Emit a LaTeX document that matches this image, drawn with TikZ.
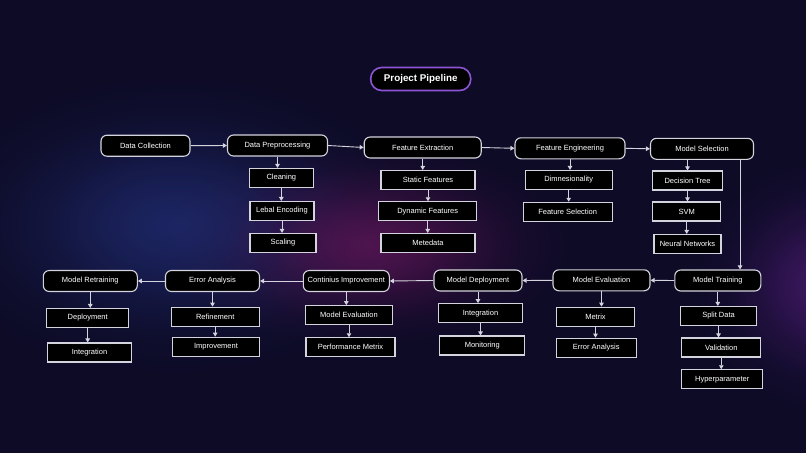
\documentclass[tikz,border=0pt]{standalone}
\usepackage{fontspec}
\setmainfont{Liberation Sans}
\usetikzlibrary{arrows.meta,fadings}
\definecolor{bgbase}{RGB}{13,11,38}
\definecolor{glowblue}{RGB}{32,44,112}
\definecolor{glowpink}{RGB}{92,22,86}
\definecolor{glowviolet}{RGB}{74,28,112}
\definecolor{hline}{RGB}{212,212,222}
\definecolor{hpurple}{RGB}{142,84,214}
\tikzfading[name=glowfade,inner color=transparent!0,outer color=transparent!100]
\tikzset{
  stagebox/.style={draw=hline,line width=1.1pt,fill=black,rounded corners=6pt,minimum height=21pt,inner xsep=3pt,inner ysep=0pt,text=white,font=\fontsize{7.5}{9}\selectfont},
  leaf/.style={draw=hline,line width=1.1pt,fill=black,minimum height=19pt,inner xsep=3pt,inner ysep=0pt,text=white,font=\fontsize{7.5}{9}\selectfont},
  flow/.style={draw=hline,line width=0.9pt,-{Triangle[length=4pt,width=4.5pt]}},
  glow/.style={fill=#1,fill opacity=0.45,path fading=glowfade}
}
\newcommand{\mainbox}[4]{\node[stagebox,minimum width=#3pt] (#1) at (#2) {#4};}
\newcommand{\leafbox}[4]{\node[leaf,minimum width=#3pt] (#1) at (#2) {#4};}
\begin{document}
\begin{tikzpicture}[x=1pt,y=-1pt]
  \fill[bgbase] (0,0) rectangle (806,453);
  \useasboundingbox (0,0) rectangle (806,453);
  \foreach \s in {1,0.75,0.5} {
    \fill[glow=glowblue] (175,225) ellipse ({250*\s} and {150*\s});
    \fill[glow=glowpink] (370,245) ellipse ({210*\s} and {105*\s});
    \fill[glow=glowviolet] (830,285) ellipse ({140*\s} and {130*\s});
  }
  \node[draw=hpurple,line width=1.6pt,fill=black,rounded corners=11pt,minimum width=100pt,minimum height=23pt,inner sep=0pt,text=white,font=\bfseries\fontsize{9.8}{12}\selectfont] (title) at (420.7,79) {Project Pipeline};
  \mainbox{dcol}{145.5,145.7}{89}{Data Collection}
  \mainbox{dpre}{277.5,145.5}{100}{Data Preprocessing}
  \mainbox{fext}{422.7,147.5}{117}{Feature Extraction}
  \mainbox{feng}{570,148.3}{110}{Feature Engineering}
  \mainbox{msel}{702,148.8}{103}{Model Selection}
  \leafbox{clean}{281.3,178}{64}{Cleaning}
  \leafbox{lenc}{282,211}{64}{Lebal Encoding}
  \leafbox{scal}{283,243}{66}{Scaling}
  \leafbox{stat}{428,180}{94}{Static Features}
  \leafbox{dyn}{427.7,211.3}{98}{Dynamic Features}
  \leafbox{meta}{428,243}{94}{Metedata}
  \leafbox{dim}{568.7,180}{87}{Dimnesionality}
  \leafbox{fsel}{567.7,211.8}{89}{Feature Selection}
  \leafbox{dtree}{687.5,180.5}{70}{Decision Tree}
  \leafbox{svm}{686.7,211.5}{68}{SVM}
  \leafbox{nn}{687.5,244}{67}{Neural Networks}
  \mainbox{mtrain}{717.8,280.5}{86}{Model Training}
  \mainbox{meval}{601.5,280.3}{97}{Model Evaluation}
  \mainbox{mdep}{478,280.5}{88}{Model Deployment}
  \mainbox{cimp}{346.3,281}{86}{Continius Improvement}
  \mainbox{eana}{212.5,281}{94}{Error Analysis}
  \mainbox{mret}{90.3,281}{94}{Model Retraining}
  \leafbox{split}{718.5,316}{76}{Split Data}
  \leafbox{valid}{721.3,347.5}{79}{Validation}
  \leafbox{hyper}{722.2,379.3}{81}{Hyperparameter}
  \leafbox{metrix}{595.5,316.7}{78}{Metrix}
  \leafbox{errb}{596.3,347.7}{80}{Error Analysis}
  \leafbox{integ}{480.5,313.2}{84}{Integration}
  \leafbox{monit}{482.3,345.5}{85}{Monitoring}
  \leafbox{mevalb}{349,315.2}{87}{Model Evaluation}
  \leafbox{perf}{350.5,347.3}{89}{Performance Metrix}
  \leafbox{refine}{215.2,316.7}{88}{Refinement}
  \leafbox{improve}{216,346.7}{87}{Improvement}
  \leafbox{deploy}{87.7,318}{82}{Deployment}
  \leafbox{integb}{89.5,352.5}{84}{Integration}
  \foreach \a/\b in {dcol/dpre,dpre/fext,fext/feng,feng/msel}
    \draw[flow] (\a.east) -- (\b.west);
  \foreach \a/\b in {mtrain/meval,meval/mdep,mdep/cimp,cimp/eana,eana/mret}
    \draw[flow] (\a.west) -- (\b.east);
  \foreach \a/\b in {dpre/clean,clean/lenc,lenc/scal,fext/stat,stat/dyn,dyn/meta,feng/dim,dim/fsel,dtree/svm,svm/nn,mtrain/split,split/valid,valid/hyper,meval/metrix,metrix/errb,mdep/integ,integ/monit,cimp/mevalb,mevalb/perf,eana/refine,refine/improve,mret/deploy,deploy/integb}
    \draw[flow] (\a.south) -- (\a.south |- \b.north);
  \draw[flow] (dtree.north |- msel.south) -- (dtree.north);
  \draw[flow] ([xshift=-14pt]msel.south east) -- ([xshift=-14pt]msel.south east |- mtrain.north);
\end{tikzpicture}
\end{document}
